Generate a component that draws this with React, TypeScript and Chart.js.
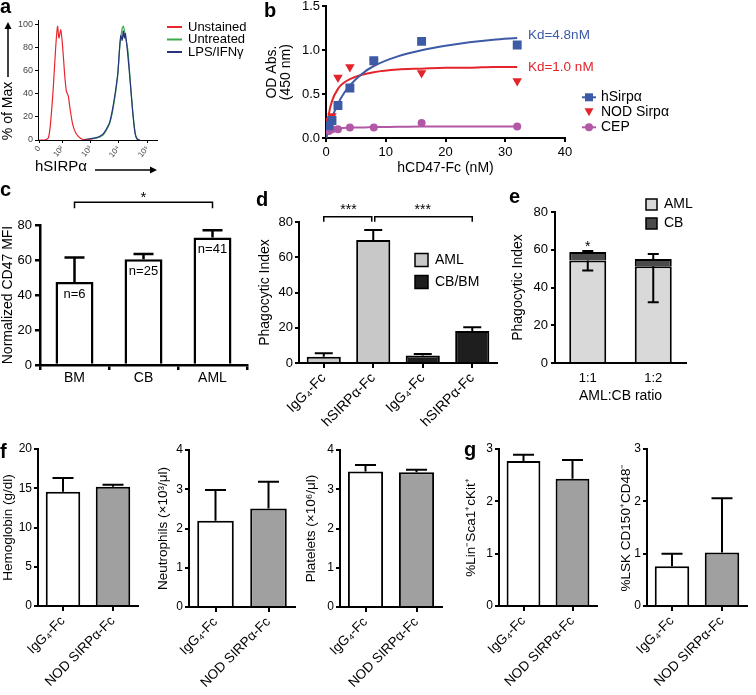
import React, { useEffect, useRef } from 'react';
import { Chart, registerables } from 'chart.js';

Chart.register(...registerables);

const FONT = '"Liberation Sans", Arial, Helvetica, sans-serif';
const fnt = (size: number, weight = 'normal') => `${weight} ${size}px ${FONT}`;

// ---------- Panel a: flow histogram ----------
const A_TICK_POS = [0, 0.87, 1.92, 2.97, 4.05];
const A_TICK_LABELS = ['0', '10²', '10³', '10⁴', '10⁵'];
const A_LEGEND = ['Unstained', 'Untreated', 'LPS/IFNγ'];
const A_UNSTAINED_X = [0, 0.22, 0.35, 0.43, 0.53, 0.62, 0.69, 0.74, 0.81, 0.88, 0.96, 1.02, 1.09, 1.15, 1.25, 1.37, 1.52, 1.7, 2.0];
const A_UNSTAINED_Y = [0, 0, 2, 15, 45, 80, 98, 88, 95, 80, 55, 42, 38, 28, 14, 6, 2, 0, 0];
const A_UNTREATED_X = [1.6, 2.14, 2.38, 2.5, 2.63, 2.72, 2.81, 2.88, 2.94, 3.02, 3.1, 3.15, 3.22, 3.31, 3.4, 3.49, 3.58, 3.64, 3.74];
const A_UNTREATED_Y = [0, 1.5, 4, 8, 14, 22, 34, 45, 57, 83, 96, 98, 89, 78, 52, 26, 7, 1, 0];
const A_LPS_X = [1.6, 2.14, 2.38, 2.5, 2.63, 2.72, 2.81, 2.88, 2.94, 3.0, 3.05, 3.1, 3.14, 3.18, 3.22, 3.3, 3.4, 3.49, 3.58, 3.66, 3.76];
const A_LPS_Y = [0, 2, 5, 9, 15, 24, 36, 47, 58, 78, 90, 86, 94, 88, 92, 76, 50, 25, 6, 1, 0];

// ---------- Panel b: binding ----------
const B_CONC = [0.5, 1, 2, 4, 8, 16, 32];
const B_HSIRPA = [0.14, 0.2, 0.37, 0.57, 0.88, 1.1, 1.06];
const B_NOD = [0.2, 0.25, 0.69, 0.81, 0.87, 0.74, 0.65];
const B_CEP = [0.08, 0.1, 0.1, 0.12, 0.12, 0.17, 0.13];
const B_FIT_X = [0, 0.5, 1, 2, 3, 4, 6, 8, 12, 16, 20, 24, 28, 32];
const B_FIT_HSIRPA = [0, 0.13, 0.23, 0.39, 0.51, 0.6, 0.73, 0.82, 0.93, 1.0, 1.05, 1.09, 1.12, 1.14];
const B_FIT_NOD = [0, 0.28, 0.42, 0.56, 0.63, 0.67, 0.72, 0.75, 0.78, 0.79, 0.8, 0.8, 0.81, 0.81];
const B_FIT_CEP = [0, 0.08, 0.1, 0.11, 0.115, 0.12, 0.12, 0.125, 0.127, 0.13, 0.13, 0.13, 0.13, 0.13];
const B_LEGEND = ['hSirpα', 'NOD Sirpα', 'CEP'];
const B_KD = ['Kd=4.8nM', 'Kd=1.0 nM'];

// ---------- Panel c ----------
const C_CATS = ['BM', 'CB', 'AML'];
const C_MFI = [47.4, 60.4, 72.8];
const C_MFI_ERR = [61.5, 63.4, 77];
const C_N = ['n=6', 'n=25', 'n=41'];

// ---------- Panel d ----------
const D_CATS = ['IgG₄-Fc', 'hSIRPα-Fc', 'IgG₄-Fc', 'hSIRPα-Fc'];
const D_AML = [3.6, 69.8];
const D_AML_ERR = [5.5, 75.5];
const D_CBBM = [4.2, 18.2];
const D_CBBM_ERR = [5.1, 20.3];

// ---------- Panel e ----------
const E_CATS = ['1:1', '1:2'];
const E_AML = [54.3, 51.3];
const E_CB = [4.5, 3.8];
const E_AML_ERR_LOW = [49, 32.2];
const E_TOTAL_ERR_HIGH = [59.4, 57.7];

// ---------- Panels f, g ----------
const FG_CATS = ['IgG₄-Fc', 'NOD SIRPα-Fc'];
const HGB = [14.56, 15.2];
const HGB_ERR = [16.3, 15.45];
const NEUT = [2.2, 2.51];
const NEUT_ERR = [2.98, 3.19];
const PLT = [3.45, 3.43];
const PLT_ERR = [3.62, 3.5];
const LSK = [2.77, 2.43];
const LSK_ERR = [2.89, 2.79];
const HSC = [0.76, 1.02];
const HSC_ERR = [1.0, 2.06];

const RED_A = '#e8262f';
const GREEN_A = '#3aaa4a';
const NAVY_A = '#27337a';
const B_BLUE = '#3c5aa6';
const B_RED = '#e3242b';
const B_MAG = '#b159a6';

const zeroPad = (s: any) => {
  s.paddingLeft = 0;
  s.paddingRight = 0;
  s.paddingTop = 0;
  s.paddingBottom = 0;
};

function yLin(o: any) {
  const ticks: any = {
    stepSize: o.step,
    color: o.tickColor ?? '#000',
    font: { family: FONT, size: o.tickSize },
    padding: o.pad,
    includeBounds: false,
  };
  if (o.fmt) ticks.callback = o.fmt;
  return {
    type: 'linear',
    position: 'left',
    min: o.min,
    max: o.max,
    ticks,
    grid: { display: true, drawOnChartArea: false, drawTicks: true, tickLength: o.tl, color: '#000', lineWidth: o.lw },
    border: { display: true, color: '#000', width: o.lw },
    title: o.title
      ? {
          display: true,
          text: o.title,
          color: '#000',
          font: { family: FONT, size: o.titleSize, lineHeight: o.titleLH ?? 1.2 },
          padding: { top: o.titlePad ?? 0, bottom: 0 },
        }
      : { display: false },
    afterFit: (s: any) => {
      s.width = o.width;
      zeroPad(s);
    },
  };
}

function xCat(o: any) {
  return {
    type: 'category',
    position: 'bottom',
    offset: true,
    grid: {
      display: true,
      drawOnChartArea: false,
      drawTicks: o.tl > 0,
      tickLength: o.tl,
      offset: o.gridOffset ?? false,
      color: '#000',
      lineWidth: o.lw,
    },
    border: { display: true, color: '#000', width: o.lw },
    ticks: {
      color: '#000',
      font: { family: FONT, size: o.tickSize },
      padding: o.pad,
      autoSkip: false,
      minRotation: o.rot ?? 0,
      maxRotation: o.rot ?? 0,
    },
    title: o.title
      ? {
          display: true,
          text: o.title,
          color: '#000',
          font: { family: FONT, size: o.titleSize },
          padding: { top: 0, bottom: o.titlePadB ?? 0 },
        }
      : { display: false },
    afterFit: (s: any) => {
      s.height = o.height;
      zeroPad(s);
    },
  };
}

function baseOptions(top: number, right: number, scales: any) {
  return {
    responsive: false,
    animation: false,
    events: [],
    layout: { padding: { top, right, bottom: 0, left: 0 } },
    plugins: { legend: { display: false }, tooltip: { enabled: false } },
    scales,
  };
}

const errorBars = {
  id: 'errorBars',
  afterDatasetsDraw(chart: any) {
    const ctx = chart.ctx;
    const ys = chart.scales.y;
    chart.data.datasets.forEach((ds: any, i: number) => {
      if (!ds.errTo) return;
      const meta = chart.getDatasetMeta(i);
      meta.data.forEach((el: any, j: number) => {
        const e = ds.errTo[j];
        if (e == null || ds.data[j] == null) return;
        const y1 = ys.getPixelForValue(e);
        const half = (ds.errCap ?? 20) / 2;
        ctx.save();
        ctx.strokeStyle = '#000';
        ctx.lineWidth = ds.errWidth ?? 2;
        ctx.beginPath();
        ctx.moveTo(el.x, el.y);
        ctx.lineTo(el.x, y1);
        ctx.moveTo(el.x - half, y1);
        ctx.lineTo(el.x + half, y1);
        ctx.stroke();
        ctx.restore();
      });
    });
  },
};

function bracket(ctx: any, x1: number, x2: number, y: number, drop: number) {
  ctx.beginPath();
  ctx.moveTo(x1, y + drop);
  ctx.lineTo(x1, y);
  ctx.lineTo(x2, y);
  ctx.lineTo(x2, y + drop);
  ctx.stroke();
}

// ---------- builders ----------
function buildA() {
  const mk = (label: string, xs: number[], ys: number[], color: string) => ({
    label,
    data: xs.map((x, i) => ({ x, y: ys[i] })),
    borderColor: color,
    backgroundColor: color,
    borderWidth: 1.2,
    pointRadius: 0,
    showLine: true,
    tension: 0.25,
    fill: false,
  });
  const extras = {
    id: 'extrasA',
    afterDraw(chart: any) {
      const { ctx, chartArea: ca } = chart;
      const ys = chart.scales.y;
      ctx.save();
      ctx.fillStyle = '#000';
      ctx.strokeStyle = '#000';
      ctx.lineWidth = 1.5;
      // y title with arrow
      ctx.font = fnt(14);
      ctx.textAlign = 'center';
      ctx.textBaseline = 'middle';
      const tMid = ca.bottom - 29;
      ctx.save();
      ctx.translate(8, tMid);
      ctx.rotate(-Math.PI / 2);
      ctx.fillText('% of Max', 0, 0);
      ctx.restore();
      const aTop = ys.getPixelForValue(100) - 2;
      ctx.beginPath();
      ctx.moveTo(8, tMid - 34);
      ctx.lineTo(8, aTop + 5);
      ctx.stroke();
      ctx.beginPath();
      ctx.moveTo(8, aTop);
      ctx.lineTo(4.5, aTop + 7);
      ctx.lineTo(11.5, aTop + 7);
      ctx.closePath();
      ctx.fill();
      // x title with arrow
      ctx.font = fnt(15);
      ctx.textAlign = 'left';
      ctx.fillText('hSIRPα', 35, ca.bottom + 27);
      const ay = ca.bottom + 30;
      ctx.beginPath();
      ctx.moveTo(95, ay);
      ctx.lineTo(ca.right - 5, ay);
      ctx.stroke();
      ctx.beginPath();
      ctx.moveTo(ca.right, ay);
      ctx.lineTo(ca.right - 7, ay - 3.5);
      ctx.lineTo(ca.right - 7, ay + 3.5);
      ctx.closePath();
      ctx.fill();
      // legend
      const cols = [RED_A, GREEN_A, NAVY_A];
      ctx.font = fnt(13);
      A_LEGEND.forEach((t, i) => {
        const y = ca.top + 7 + i * 12.5;
        ctx.strokeStyle = cols[i];
        ctx.lineWidth = 2;
        ctx.beginPath();
        ctx.moveTo(ca.right + 10, y);
        ctx.lineTo(ca.right + 25, y);
        ctx.stroke();
        ctx.fillStyle = '#000';
        ctx.fillText(t, ca.right + 31, y);
      });
      ctx.restore();
    },
  };
  return {
    type: 'scatter',
    data: {
      datasets: [
        mk(A_LEGEND[0], A_UNSTAINED_X, A_UNSTAINED_Y, RED_A),
        mk(A_LEGEND[2], A_LPS_X, A_LPS_Y, NAVY_A),
        mk(A_LEGEND[1], A_UNTREATED_X, A_UNTREATED_Y, GREEN_A),
      ],
    },
    options: baseOptions(20, 103, {
      x: {
        type: 'linear',
        position: 'bottom',
        min: -0.04,
        max: 4.4,
        afterBuildTicks: (s: any) => {
          s.ticks = A_TICK_POS.map((v) => ({ value: v }));
        },
        ticks: {
          callback: (_v: any, i: number) => A_TICK_LABELS[i],
          minRotation: 50,
          maxRotation: 50,
          font: { family: FONT, size: 8 },
          color: '#444',
          padding: 1,
        },
        grid: { display: true, drawOnChartArea: false, tickLength: 3, color: '#000', lineWidth: 1 },
        border: { display: true, color: '#000', width: 1 },
        afterFit: (s: any) => {
          s.height = 38;
          zeroPad(s);
        },
      },
      y: yLin({ min: 0, max: 103.5, step: 20, width: 38, tickSize: 9, tickColor: '#444', tl: 3, pad: 2, lw: 1 }),
    }),
    plugins: [extras],
  };
}

function buildB() {
  const line = (label: string, ys: number[], color: string) => ({
    label,
    data: B_FIT_X.map((x, i) => ({ x, y: ys[i] })),
    borderColor: color,
    backgroundColor: color,
    borderWidth: 2,
    pointRadius: 0,
    showLine: true,
    cubicInterpolationMode: 'monotone',
    fill: false,
  });
  const pts = (label: string, ys: number[], color: string, style: string, r: number, rot = 0) => ({
    label,
    data: B_CONC.map((x, i) => ({ x, y: ys[i] })),
    backgroundColor: color,
    borderColor: color,
    borderWidth: 0,
    pointStyle: style,
    pointRadius: r,
    rotation: rot,
    showLine: false,
  });
  const extras = {
    id: 'extrasB',
    afterDraw(chart: any) {
      const { ctx, chartArea: ca } = chart;
      const xs = chart.scales.x;
      const ys = chart.scales.y;
      ctx.save();
      ctx.textBaseline = 'middle';
      ctx.textAlign = 'left';
      ctx.font = fnt(13.5);
      ctx.fillStyle = B_BLUE;
      ctx.fillText(B_KD[0], xs.getPixelForValue(33.8), ys.getPixelForValue(1.165));
      ctx.fillStyle = B_RED;
      ctx.fillText(B_KD[1], xs.getPixelForValue(33.8), ys.getPixelForValue(0.805));
      // legend
      const cols = [B_BLUE, B_RED, B_MAG];
      ctx.font = fnt(14);
      B_LEGEND.forEach((t, i) => {
        const y = ca.top + 91 + i * 15;
        const x0 = ca.right + 17;
        const c = cols[i];
        ctx.strokeStyle = c;
        ctx.fillStyle = c;
        ctx.lineWidth = 2;
        if (i !== 1) {
          ctx.beginPath();
          ctx.moveTo(x0, y);
          ctx.lineTo(x0 + 14, y);
          ctx.stroke();
        }
        const cx = x0 + 7;
        ctx.beginPath();
        if (i === 0) ctx.rect(cx - 4, y - 4, 8, 8);
        else if (i === 1) {
          ctx.moveTo(cx - 4.5, y - 4);
          ctx.lineTo(cx + 4.5, y - 4);
          ctx.lineTo(cx, y + 4);
          ctx.closePath();
        } else ctx.arc(cx, y, 4, 0, Math.PI * 2);
        ctx.fill();
        ctx.fillStyle = '#000';
        ctx.fillText(t, x0 + 19, y);
      });
      ctx.restore();
    },
  };
  return {
    type: 'scatter',
    data: {
      datasets: [
        pts(B_LEGEND[0], B_HSIRPA, B_BLUE, 'rect', 6.3),
        pts(B_LEGEND[1], B_NOD, B_RED, 'triangle', 5.5, 180),
        pts(B_LEGEND[2], B_CEP, B_MAG, 'circle', 4),
        line(B_LEGEND[0] + ' fit', B_FIT_HSIRPA, B_BLUE),
        line(B_LEGEND[1] + ' fit', B_FIT_NOD, B_RED),
        line(B_LEGEND[2] + ' fit', B_FIT_CEP, B_MAG),
      ],
    },
    options: baseOptions(4, 110, {
      x: {
        type: 'linear',
        position: 'bottom',
        min: 0,
        max: 40,
        ticks: { stepSize: 10, color: '#000', font: { family: FONT, size: 13 }, padding: 3, includeBounds: false },
        grid: { display: true, drawOnChartArea: false, tickLength: 4, color: '#000', lineWidth: 2 },
        border: { display: true, color: '#000', width: 2 },
        title: {
          display: true,
          text: 'hCD47-Fc (nM)',
          color: '#000',
          font: { family: FONT, size: 14 },
          padding: { top: 0, bottom: 8 },
        },
        afterFit: (s: any) => {
          s.height = 47;
          zeroPad(s);
        },
      },
      y: yLin({
        min: 0,
        max: 1.5,
        step: 0.5,
        width: 71,
        tickSize: 13,
        tl: 4,
        pad: 2,
        lw: 2,
        fmt: (v: number) => v.toFixed(1),
        title: ['OD Abs.', '(450 nm)'],
        titleSize: 14,
        titleLH: 1,
        titlePad: 10.5,
      }),
    }),
    plugins: [extras],
  };
}

function buildC() {
  const extras = {
    id: 'extrasC',
    afterDatasetsDraw(chart: any) {
      const { ctx } = chart;
      const ys = chart.scales.y;
      const meta = chart.getDatasetMeta(0);
      ctx.save();
      ctx.fillStyle = '#000';
      ctx.strokeStyle = '#000';
      ctx.font = fnt(13);
      ctx.textAlign = 'center';
      ctx.textBaseline = 'middle';
      meta.data.forEach((el: any, i: number) => ctx.fillText(C_N[i], el.x, el.y + 12));
      ctx.lineWidth = 1.5;
      const y = ys.getPixelForValue(93);
      bracket(ctx, meta.data[0].x, meta.data[2].x, y, 6);
      ctx.font = fnt(15);
      ctx.fillText('*', (meta.data[0].x + meta.data[2].x) / 2, ys.getPixelForValue(95.7));
      ctx.restore();
    },
  };
  return {
    type: 'bar',
    data: {
      labels: C_CATS,
      datasets: [
        {
          label: 'CD47 MFI',
          data: C_MFI,
          errTo: C_MFI_ERR,
          errCap: 20,
          errWidth: 2.5,
          backgroundColor: '#fff',
          borderColor: '#000',
          borderWidth: 2.5,
          barPercentage: 0.55,
          categoryPercentage: 1,
        },
      ],
    },
    options: baseOptions(45, 8, {
      x: xCat({ height: 30, tickSize: 14, tl: 5, pad: 0, lw: 2.5, gridOffset: true }),
      y: yLin({
        min: 0,
        max: 80,
        step: 10,
        width: 40,
        tickSize: 13,
        tl: 5,
        pad: 3,
        lw: 2.5,
        fmt: (v: number) => (v % 20 === 0 ? String(v) : ''),
        title: 'Normalized CD47 MFI',
        titleSize: 14,
      }),
    }),
    plugins: [errorBars, extras],
  };
}

function buildD() {
  const extras = {
    id: 'extrasD',
    afterDatasetsDraw(chart: any) {
      const { ctx, chartArea: ca } = chart;
      const ys = chart.scales.y;
      const xs = chart.scales.x;
      const px = (i: number) => xs.getPixelForValue(i);
      ctx.save();
      ctx.strokeStyle = '#000';
      ctx.fillStyle = '#000';
      ctx.lineWidth = 1.5;
      const by = ys.getPixelForValue(83);
      bracket(ctx, px(0), px(1) - 1.5, by, 5);
      bracket(ctx, px(1) + 1.5, px(3), by, 5);
      ctx.font = fnt(14);
      ctx.textAlign = 'center';
      ctx.textBaseline = 'middle';
      const sy = ys.getPixelForValue(86.5);
      ctx.fillText('***', (px(0) + px(1)) / 2, sy);
      ctx.fillText('***', (px(1) + px(3)) / 2, sy);
      // legend
      const items: [string, string][] = [
        ['AML', '#c8c8c8'],
        ['CB/BM', '#1e1e1e'],
      ];
      items.forEach(([t, c], i) => {
        const cy = ca.top + 38 + i * 22;
        const x0 = ca.left + 116;
        ctx.fillStyle = c;
        ctx.fillRect(x0, cy - 6.5, 13, 13);
        ctx.strokeRect(x0, cy - 6.5, 13, 13);
        ctx.fillStyle = '#000';
        ctx.textAlign = 'left';
        ctx.fillText(t, x0 + 20, cy);
      });
      ctx.restore();
    },
  };
  const common = {
    borderColor: '#000',
    borderWidth: 2,
    barPercentage: 0.69,
    categoryPercentage: 1,
    grouped: false,
    errCap: 18,
    errWidth: 2,
  };
  return {
    type: 'bar',
    data: {
      labels: D_CATS,
      datasets: [
        { label: 'AML', data: [...D_AML, null, null], errTo: [...D_AML_ERR, null, null], backgroundColor: '#c8c8c8', ...common },
        { label: 'CB/BM', data: [null, null, ...D_CBBM], errTo: [null, null, ...D_CBBM_ERR], backgroundColor: '#1e1e1e', ...common },
      ],
    },
    options: baseOptions(37, 8, {
      x: xCat({ height: 87, tickSize: 14, rot: 45, tl: 5, pad: 2, lw: 2 }),
      y: yLin({
        min: 0,
        max: 80,
        step: 20,
        width: 44,
        tickSize: 13,
        tl: 4,
        pad: 2,
        lw: 2,
        title: 'Phagocytic Index',
        titleSize: 14,
        titlePad: 2,
      }),
    }),
    plugins: [errorBars, extras],
  };
}

function buildE() {
  const extras = {
    id: 'extrasE',
    afterDatasetsDraw(chart: any) {
      const { ctx, chartArea: ca } = chart;
      const ys = chart.scales.y;
      const meta = chart.getDatasetMeta(1);
      ctx.save();
      ctx.fillStyle = '#000';
      ctx.strokeStyle = '#000';
      ctx.lineWidth = 1.5;
      ctx.font = fnt(14);
      ctx.textAlign = 'center';
      ctx.textBaseline = 'middle';
      ctx.fillText('*', meta.data[0].x, ys.getPixelForValue(61.5));
      const items: [string, string][] = [
        ['AML', '#d9d9d9'],
        ['CB', '#4a4a4a'],
      ];
      items.forEach(([t, c], i) => {
        const cy = ca.top - 7.5 + i * 19;
        const x0 = ca.right - 40;
        ctx.fillStyle = c;
        ctx.fillRect(x0, cy - 5.5, 11, 11);
        ctx.strokeRect(x0, cy - 5.5, 11, 11);
        ctx.fillStyle = '#000';
        ctx.textAlign = 'left';
        ctx.fillText(t, x0 + 18, cy);
      });
      ctx.restore();
    },
  };
  const common = {
    borderColor: '#000',
    borderWidth: 2,
    barPercentage: 0.565,
    categoryPercentage: 1,
    errCap: 11,
    errWidth: 2,
    stack: 's',
  };
  return {
    type: 'bar',
    data: {
      labels: E_CATS,
      datasets: [
        { label: 'AML', data: E_AML, errTo: E_AML_ERR_LOW, backgroundColor: '#d9d9d9', ...common },
        { label: 'CB', data: E_CB, errTo: E_TOTAL_ERR_HIGH, backgroundColor: '#4a4a4a', ...common },
      ],
    },
    options: baseOptions(27, 70, {
      x: {
        ...xCat({ height: 42, tickSize: 13, tl: 0, pad: 8, lw: 2, title: 'AML:CB ratio', titleSize: 14 }),
        stacked: true,
      },
      y: {
        ...yLin({
          min: 0,
          max: 80,
          step: 20,
          width: 45,
          tickSize: 13,
          tl: 4,
          pad: 3,
          lw: 2,
          title: 'Phagocytic Index',
          titleSize: 14,
        }),
        stacked: true,
      },
    }),
    plugins: [errorBars, extras],
  };
}

function buildSimple(vals: number[], errs: number[], title: string, max: number, step: number, wid: number, top: number, right: number, hx: number) {
  return {
    type: 'bar',
    data: {
      labels: FG_CATS,
      datasets: [
        {
          label: title,
          data: vals,
          errTo: errs,
          errCap: 21,
          errWidth: 2,
          backgroundColor: ['#ffffff', '#a0a0a0'],
          borderColor: '#000',
          borderWidth: 2,
          barPercentage: 0.69,
          categoryPercentage: 1,
        },
      ],
    },
    options: baseOptions(top, right, {
      x: xCat({ height: hx, tickSize: 13.5, rot: 45, tl: 5, pad: 2, lw: 2 }),
      y: yLin({ min: 0, max, step, width: wid, tickSize: 12, tl: 4, pad: 2, lw: 2, title, titleSize: 13.5 }),
    }),
    plugins: [errorBars],
  };
}

function ChartCanvas({ left, top, width, height, build }: any) {
  const ref = useRef<HTMLCanvasElement | null>(null);
  useEffect(() => {
    const chart = new Chart(ref.current as HTMLCanvasElement, build());
    return () => chart.destroy();
  }, []);
  return <canvas ref={ref} width={width} height={height} style={{ position: 'absolute', left, top, width, height }} />;
}

function Letter({ t, left, top }: { t: string; left: number; top: number }) {
  return (
    <div style={{ position: 'absolute', left, top, font: fnt(20, 'bold'), lineHeight: '20px', color: '#000' }}>{t}</div>
  );
}

export default function App() {
  return (
    <div style={{ position: 'absolute', left: 0, top: 0, width: 756, height: 695, background: '#fff', overflow: 'hidden' }}>
      <ChartCanvas left={0} top={0} width={260} height={178} build={buildA} />
      <ChartCanvas left={255} top={0} width={420} height={185} build={buildB} />
      <ChartCanvas left={0} top={180} width={255} height={215} build={buildC} />
      <ChartCanvas left={255} top={185} width={250} height={265} build={buildD} />
      <ChartCanvas left={510} top={185} width={246} height={220} build={buildE} />
      <ChartCanvas left={0} top={425} width={146} height={270} build={() => buildSimple(HGB, HGB_ERR, 'Hemoglobin (g/dl)', 20, 5, 38, 24, 8, 89)} />
      <ChartCanvas left={155} top={425} width={148} height={270} build={() => buildSimple(NEUT, NEUT_ERR, 'Neutrophils (×10³/μl)', 4, 1, 34, 25, 8, 88)} />
      <ChartCanvas left={303} top={425} width={147} height={270} build={() => buildSimple(PLT, PLT_ERR, 'Platelets (×10⁶/μl)', 4, 1, 37, 25, 8, 88)} />
      <ChartCanvas left={463} top={425} width={142} height={270} build={() => buildSimple(LSK, LSK_ERR, '%Lin⁻Sca1⁺cKit⁺', 3, 1, 36, 24, 8, 89)} />
      <ChartCanvas left={618} top={425} width={138} height={270} build={() => buildSimple(HSC, HSC_ERR, '%LSK CD150⁺CD48⁻', 3, 1, 29, 24, 9, 89)} />
      <Letter t="a" left={0} top={-3.6} />
      <Letter t="b" left={264} top={0} />
      <Letter t="c" left={0} top={178.5} />
      <Letter t="d" left={256} top={189} />
      <Letter t="e" left={509} top={186} />
      <Letter t="f" left={0} top={441} />
      <Letter t="g" left={464} top={438.7} />
    </div>
  );
}
